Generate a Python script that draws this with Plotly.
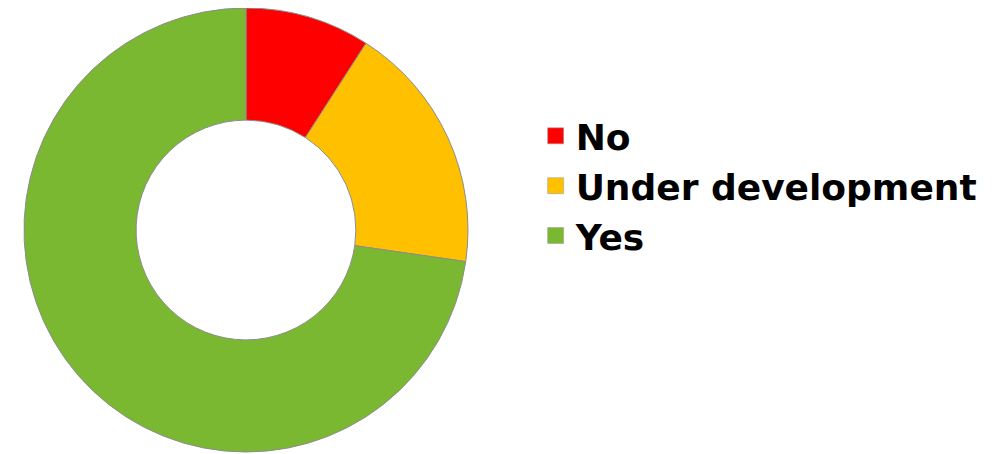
import plotly.graph_objects as go

labels = ["No", "Under development", "Yes"]
values = [1, 2, 8]
colors = ["#FF0000", "#FFC000", "#7AB832"]

fig = go.Figure()
fig.add_trace(go.Pie(
    labels=labels,
    values=values,
    hole=0.495,
    sort=False,
    direction="clockwise",
    rotation=0,
    marker=dict(colors=colors, line=dict(color="#8c8c8c", width=1)),
    textinfo="none",
    hoverinfo="label+value",
    showlegend=False,
    domain=dict(x=[0.0159, 0.4577], y=[0.022, 1.0]),
))

# legend entries
for lab, col in zip(labels, colors):
    fig.add_trace(go.Scatter(
        x=[None], y=[None], mode="markers", name=lab,
        marker=dict(symbol="square", size=16, color=col,
                    line=dict(color="#9a9a9a", width=0.5)),
        hoverinfo="skip",
    ))

fig.update_layout(
    width=1005, height=454,
    margin=dict(l=0, r=0, t=0, b=0),
    paper_bgcolor="white",
    plot_bgcolor="white",
    showlegend=True,
    xaxis=dict(visible=False),
    yaxis=dict(visible=False),
    legend=dict(
        x=0.525, y=0.608, xanchor="left", yanchor="middle",
        font=dict(family="DejaVu Sans", size=36, color="#000000", weight="bold"),
        itemwidth=30,
        bgcolor="rgba(0,0,0,0)",
    ),
)

fig.write_html("out.html")
